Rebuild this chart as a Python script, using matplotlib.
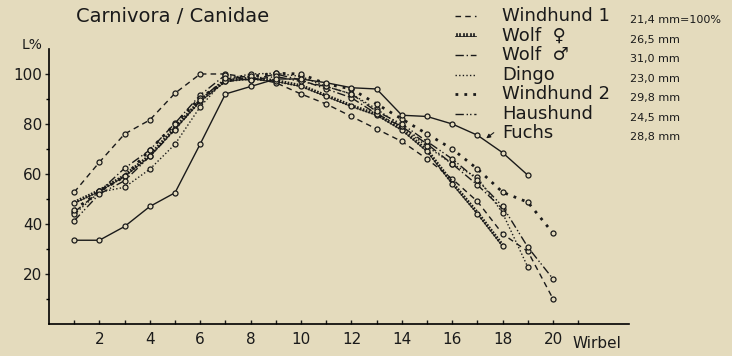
import matplotlib
matplotlib.use("Agg")
from matplotlib import pyplot as plt
from matplotlib import patheffects as pe

# Wirbel (vertebra number) on x, L% on y
wirbel = list(range(1, 21))

windhund1 = [52.7, 64.7, 76, 81.6, 92.3, 100, 100, 98.5, 96.5, 92, 88, 83, 78, 73, 66, 58, 49, 36, 29, 10]
wolf_w = [48.3, 53, 59, 67, 78, 89, 97, 98, 97, 95, 91, 87, 83.5, 77.5, 69, 56, 44, 31]
wolf_m = [44.7, 53, 62.3, 69.6, 80.3, 91.6, 99.6, 97.6, 100, 97.6, 94, 90.5, 84, 79, 72, 64, 55.6, 46]
dingo = [43.9, 52.7, 54.7, 61.9, 71.9, 86.9, 98, 100, 100.3, 99, 95, 92, 86, 79, 71, 64, 58.6, 44.3, 22.7]
windhund2 = [45.6, 53, 59, 69.6, 80, 90.5, 97, 99, 100.3, 100, 96, 94, 88, 82, 76, 70, 62, 52.7, 48.7, 36.3]
haushund = [41.3, 52, 57.3, 67, 77.6, 89.6, 98.3, 97.6, 99, 97, 95, 92, 85, 80, 73, 66, 57.6, 47, 30.7, 18]
fuchs = [33.5, 33.5, 39, 47, 52.5, 72, 92, 95, 98, 98, 96.5, 94.5, 94, 83.5, 83, 80, 75.5, 68.5, 59.5]

names = ["Windhund 1", "Wolf  \u2640", "Wolf  \u2642", "Dingo", "Windhund 2", "Haushund", "Fuchs"]
sizes = ["21,4 mm=100%", "26,5 mm", "31,0 mm", "23,0 mm", "29,8 mm", "24,5 mm", "28,8 mm"]

bg = "#e4dbbd"
ink = "#1a1a1a"

fig = plt.figure(figsize=(7.32, 3.56), dpi=100, facecolor=bg)
ax = fig.add_axes([0.0669, 0.0899, 0.792, 0.7725], facecolor=bg)

styles = [
    dict(linestyle=(0, (4, 3))),
    dict(linestyle="-", linewidth=0.6,
         path_effects=[pe.withTickedStroke(spacing=2.2, angle=90, length=0.5, linewidth=1.2)]),
    dict(linestyle=(0, (6, 2, 1, 2))),
    dict(linestyle=(0, (1, 1.6))),
    dict(linestyle=(0, (1, 2.2)), linewidth=2.0),
    dict(linestyle=(0, (6, 2, 1, 1.5, 1, 2))),
    dict(linestyle="-"),
]
series = [windhund1, wolf_w, wolf_m, dingo, windhund2, haushund, fuchs]

for vals, st in zip(series, styles):
    kw = dict(color=ink, linewidth=1.0)
    kw.update(st)
    ax.plot(wirbel[:len(vals)], vals, **kw)
    ax.plot(wirbel[:len(vals)], vals, linestyle="none", marker="o", markersize=3.6,
            markerfacecolor=bg, markeredgecolor=ink, markeredgewidth=0.9)

ax.set_xlim(0, 23)
ax.set_ylim(0, 110)
ax.spines["top"].set_visible(False)
ax.spines["right"].set_visible(False)
ax.spines["left"].set_linewidth(1.2)
ax.spines["bottom"].set_linewidth(1.2)

ax.set_xticks(range(2, 21, 2))
ax.set_xticks(range(1, 22), minor=True)
ax.set_yticks(range(20, 101, 20))
ax.set_yticks(range(10, 100, 20), minor=True)
ax.tick_params(axis="x", which="both", direction="in", length=3, width=1, pad=6,
               labelsize=11, colors=ink)
ax.tick_params(axis="y", which="major", direction="out", length=3, width=1, pad=2,
               labelsize=11, colors=ink)
ax.tick_params(axis="y", which="minor", direction="out", length=2, width=1)

fig.text(76 / 732, 1 - 16 / 356, "Carnivora / Canidae", fontsize=14, color=ink, va="center")
fig.text(0.03, 0.873, "L%", fontsize=10, color=ink, va="center")
fig.text(597 / 732, 1 - 343 / 356, "Wirbel", fontsize=11, color=ink, ha="center", va="center")

# legend drawn by hand, as in the original
row_y = [16, 36, 55, 75, 94, 114, 133]
for i, (name, size) in enumerate(zip(names, sizes)):
    yf = 1 - row_y[i] / 356
    if i < 6:
        st = dict(styles[i])
        lw = st.pop("linewidth", 1.0)
        ax.plot([455 / 732, 476 / 732], [yf, yf], transform=fig.transFigure,
                color=ink, linewidth=lw, clip_on=False, **st)
    fig.text(502 / 732, yf, name, fontsize=13, color=ink, va="center")
    fig.text(630 / 732, yf - 0.01, size, fontsize=8, color=ink, va="center")

ax.annotate("", xy=(484 / 732, 1 - 140 / 356), xytext=(496 / 732, 1 - 131 / 356),
            xycoords="figure fraction", textcoords="figure fraction",
            arrowprops=dict(arrowstyle="-|>", color=ink, lw=0.8, mutation_scale=6))

fig.savefig("out.png", dpi=100, facecolor=bg)
